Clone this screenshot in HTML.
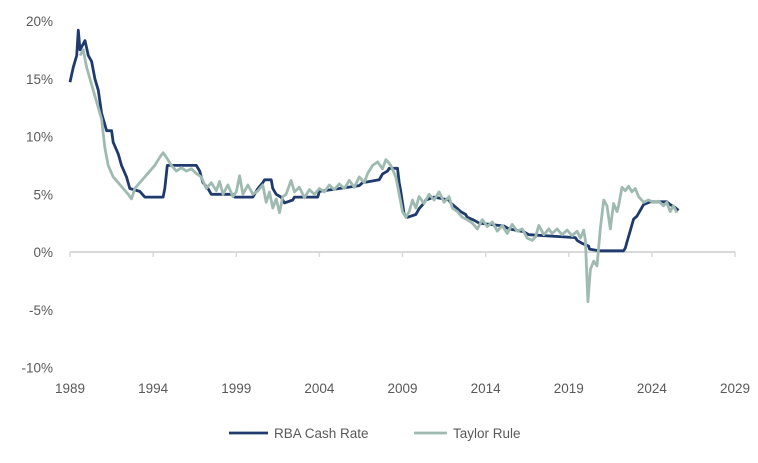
<!DOCTYPE html>
<html><head><meta charset="utf-8"><style>
body{margin:0;background:#fff;}
svg{display:block;font-family:"Liberation Sans",sans-serif;}
</style></head><body>
<svg id="chart" width="758" height="463" viewBox="0 0 758 463"></svg>
<script>
const yTicks=[20,15,10,5,0,-5,-10];
const xTicks=[1989,1994,1999,2004,2009,2014,2019,2024,2029];
const rbaYears=[1989.0,1989.2,1989.4,1989.5,1989.6,1989.9,1990.1,1990.3,1990.5,1990.7,1990.9,1991.2,1991.5,1991.6,1991.9,1992.1,1992.4,1992.6,1993.2,1993.5,1994.6,1994.7,1994.85,1996.6,1996.8,1997.0,1997.3,1997.5,1998.8,1998.9,2000.0,2000.1,2000.3,2000.6,2000.7,2001.1,2001.2,2001.4,2001.7,2001.9,2002.4,2002.5,2003.9,2004.0,2005.2,2006.4,2006.6,2007.6,2007.8,2008.1,2008.2,2008.7,2008.8,2008.9,2009.0,2009.1,2009.3,2009.8,2009.9,2010.0,2010.3,2010.4,2010.9,2011.8,2011.9,2012.3,2012.5,2012.8,2012.9,2013.3,2013.6,2015.1,2015.4,2016.3,2016.6,2019.4,2019.5,2019.8,2020.2,2020.25,2020.8,2022.3,2022.4,2022.5,2022.6,2022.7,2022.8,2022.9,2023.1,2023.2,2023.4,2023.5,2023.9,2024.9,2025.1,2025.4,2025.6];
const rbaValues=[14.7,16.0,17,19.2,17.5,18.3,17.0,16.5,15.0,14.0,12.0,10.5,10.5,9.5,8.5,7.5,6.5,5.5,5.25,4.75,4.75,5.5,7.5,7.5,7.0,6.0,5.5,5.0,5.0,4.75,4.75,5.0,5.5,6.0,6.25,6.25,5.5,5.0,4.75,4.25,4.5,4.75,4.75,5.25,5.5,5.75,6.0,6.25,6.75,7.0,7.25,7.25,6.0,5.25,4.25,3.25,3.0,3.25,3.5,3.75,4.25,4.5,4.75,4.5,4.25,3.75,3.5,3.25,3.0,2.75,2.5,2.25,2.0,1.75,1.5,1.25,1.0,0.75,0.5,0.25,0.1,0.1,0.35,0.85,1.35,1.85,2.35,2.85,3.1,3.35,3.85,4.1,4.35,4.35,4.1,3.85,3.6];
const taylorYears=[1989.6,1989.8,1990.0,1990.3,1990.6,1990.9,1991.1,1991.3,1991.6,1991.9,1992.2,1992.5,1992.7,1992.9,1993.2,1993.5,1993.8,1994.1,1994.4,1994.6,1994.8,1995.1,1995.4,1995.7,1996.0,1996.3,1996.6,1996.9,1997.2,1997.5,1997.8,1998.0,1998.2,1998.5,1998.8,1999.0,1999.2,1999.4,1999.7,2000.0,2000.3,2000.6,2000.8,2001.0,2001.2,2001.4,2001.6,2001.8,2002.0,2002.3,2002.5,2002.8,2003.1,2003.4,2003.7,2004.0,2004.3,2004.6,2004.9,2005.2,2005.5,2005.8,2006.1,2006.4,2006.7,2006.9,2007.2,2007.5,2007.8,2008.0,2008.3,2008.6,2008.8,2009.0,2009.2,2009.4,2009.6,2009.8,2010.0,2010.3,2010.6,2010.9,2011.2,2011.5,2011.8,2012.0,2012.3,2012.6,2012.9,2013.2,2013.5,2013.8,2014.1,2014.4,2014.7,2015.0,2015.3,2015.6,2015.9,2016.2,2016.5,2016.8,2017.0,2017.2,2017.5,2017.8,2018.0,2018.3,2018.6,2018.9,2019.2,2019.5,2019.7,2019.9,2020.0,2020.15,2020.3,2020.5,2020.7,2020.9,2021.1,2021.3,2021.5,2021.7,2021.9,2022.0,2022.2,2022.4,2022.6,2022.8,2023.0,2023.2,2023.5,2023.8,2024.1,2024.4,2024.7,2024.9,2025.1,2025.3,2025.5];
const taylorValues=[17.0,17.5,16.0,14.5,13,11.5,9.0,7.5,6.5,6.0,5.5,5.0,4.6,5.5,6.0,6.5,7.0,7.5,8.2,8.6,8.2,7.5,7.0,7.3,7.0,7.2,6.8,6.5,5.5,6.0,5.3,6.1,5.0,5.8,4.8,5.2,6.6,5.0,5.8,5.0,5.3,5.8,4.3,5.2,3.8,4.6,3.4,4.8,5.0,6.2,5.2,5.6,4.7,5.4,5.0,5.5,5.2,5.8,5.4,5.9,5.5,6.2,5.6,6.5,6.0,6.8,7.5,7.8,7.2,8.0,7.5,6.5,5.0,3.5,3.0,3.5,4.5,3.8,4.8,4.2,5.0,4.5,5.2,4.3,4.8,3.8,3.5,3.0,2.8,2.5,2.0,2.8,2.2,2.6,1.8,2.3,1.6,2.4,1.8,2.0,1.2,1.0,1.3,2.3,1.5,2.0,1.6,2.0,1.5,1.9,1.4,1.8,1.2,1.9,1.0,-4.3,-1.5,-0.8,-1.2,2.0,4.5,4.0,2.0,4.2,3.5,4.0,5.6,5.3,5.7,5.2,5.5,4.8,4.3,4.5,4.3,4.4,4.0,4.3,3.5,4.0,3.4];

const svg=document.getElementById('chart');
const NS='http://www.w3.org/2000/svg';
const x=v=>70+(v-1989)*(665/40);
const y=v=>252-v*11.55;
function mk(t,a){const e=document.createElementNS(NS,t);for(const k in a)e.setAttribute(k,a[k]);svg.appendChild(e);return e;}
// axis
const ax=mk('line',{x1:70,x2:735,y1:y(0),y2:y(0),stroke:'#d9d9d9','stroke-width':2});


xTicks.forEach(t=>{
  const tk=mk('line',{x1:x(t),x2:x(t),y1:y(0),y2:y(0)+5,stroke:'#d9d9d9','stroke-width':1.5});
  
  
  const tx=mk('text',{x:x(t),y:393,'text-anchor':'middle','font-size':13.5,fill:'#595959'});
  tx.textContent=t;
  
  
});
yTicks.forEach(t=>{
  const tx=mk('text',{x:53,y:y(t)+5,'text-anchor':'end','font-size':13.5,fill:'#595959'});
  tx.textContent=t+'%';
  
  
});
function path(xs,vs,color,name){
  const d=xs.map((v,i)=>(i?'L':'M')+x(v).toFixed(1)+','+y(vs[i]).toFixed(1)).join('');
  const p=mk('path',{d:d,fill:'none',stroke:color,'stroke-width':2.8,'stroke-linejoin':'round'});
  
  
}
path(rbaYears,rbaValues,'#1f3b6e','rba-cash-rate-line');
path(taylorYears,taylorValues,'#9fbbb1','taylor-rule-line');
// legend
const l1=mk('line',{x1:229,x2:268,y1:433,y2:433,stroke:'#1f3b6e','stroke-width':2.8});


const t1=mk('text',{x:274,y:438,'font-size':13.5,fill:'#595959'});t1.textContent='RBA Cash Rate';


const l2=mk('line',{x1:414,x2:447,y1:433,y2:433,stroke:'#9fbbb1','stroke-width':2.8});


const t2=mk('text',{x:453,y:438,'font-size':13.5,fill:'#595959'});t2.textContent='Taylor Rule';


</script>
</body></html>
